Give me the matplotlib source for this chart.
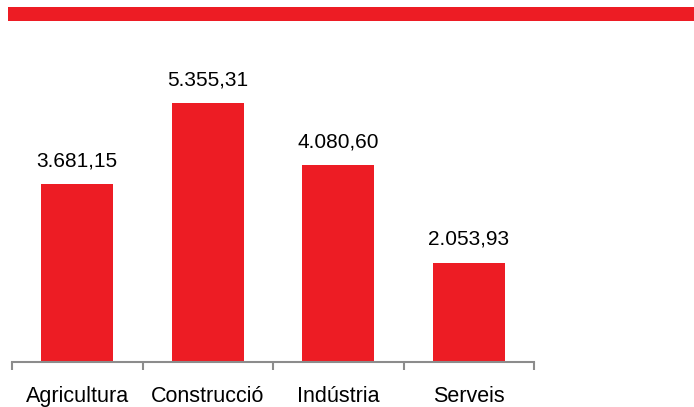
import matplotlib.pyplot as plt

sectors = ['Agricultura', 'Construcció', 'Indústria', 'Serveis']
values = [3681.15, 5355.31, 4080.60, 2053.93]
value_labels = ['3.681,15', '5.355,31', '4.080,60', '2.053,93']

red = '#ED1C24'
grey = '#8C8C8C'
plt.rcParams['font.family'] = ['Liberation Sans', 'DejaVu Sans']

fig = plt.figure(figsize=(6.94, 4.07), dpi=100)

# red band on top
band = fig.add_axes([8 / 694, 1 - 21 / 407, 1 - 8 / 694, 14 / 407])
band.set_facecolor(red)
band.set_xticks([])
band.set_yticks([])
for s in band.spines.values():
    s.set_visible(False)

ax = fig.add_axes([12 / 694, 45 / 407, 522 / 694, 322 / 407])
x = range(len(sectors))
bars = ax.bar(x, values, width=0.55, color=red)
ax.set_xlim(-0.5, len(sectors) - 0.5)
ax.set_ylim(0, 322 / 0.0483)

for b, lab in zip(bars, value_labels):
    ax.annotate(lab, (b.get_x() + b.get_width() / 2, b.get_height()),
                xytext=(0, 10), textcoords='offset points',
                ha='center', va='bottom', fontsize=15, color='black')

# category ticks at boundaries, labels at centers
ax.set_xticks([i - 0.5 for i in range(len(sectors) + 1)])
ax.set_xticklabels([])
ax.set_xticks(list(x), minor=True)
ax.set_xticklabels(sectors, minor=True, fontsize=15.5)
ax.tick_params(axis='x', which='major', length=6, width=1.5, color=grey)
ax.tick_params(axis='x', which='minor', length=0, pad=17)
ax.set_yticks([])
for side in ['top', 'right', 'left']:
    ax.spines[side].set_visible(False)
ax.spines['bottom'].set_color(grey)
ax.spines['bottom'].set_linewidth(1.5)

fig.savefig('out.png', dpi=100)
